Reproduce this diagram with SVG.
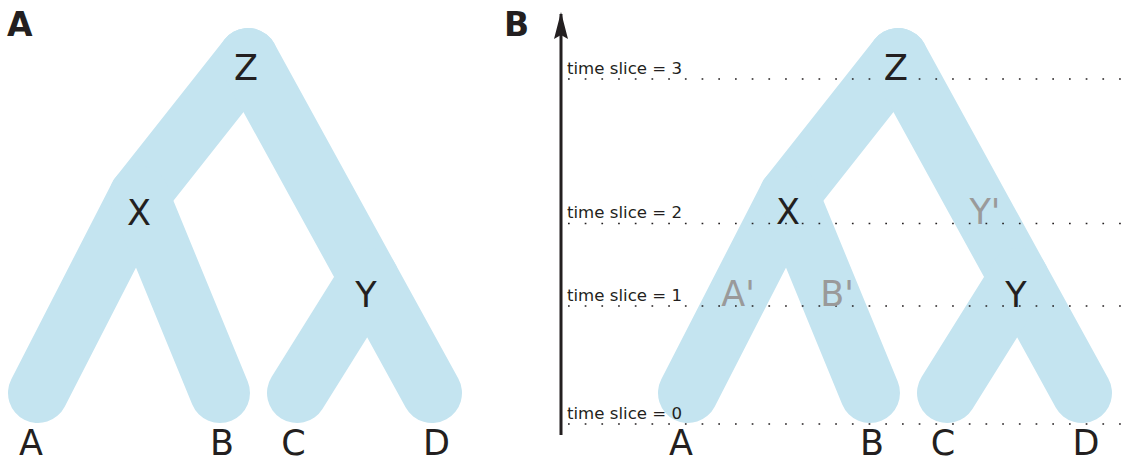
<svg xmlns="http://www.w3.org/2000/svg" width="1130" height="461" viewBox="0 0 1130 461">
  <style>
    .br { fill: none; stroke: #c4e4f0; stroke-width: 60; stroke-linecap: round; stroke-linejoin: miter; }
    .lbl { font-family: "DejaVu Sans", sans-serif; font-size: 35px; fill: #231f20; text-anchor: middle; }
    .ghost { fill: #9a9a9a; }
    .panel { font-family: "DejaVu Sans", sans-serif; font-weight: bold; font-size: 33px; fill: #231f20; }
    .ts { font-family: "DejaVu Sans", sans-serif; font-size: 16.6px; fill: #231f20; }
    .dot { stroke: #231f20; stroke-width: 1.7; stroke-dasharray: 1.7 15; fill: none; }
  </style>
  <defs>
    <marker id="arr" markerWidth="28" markerHeight="16" refX="25" refY="8" orient="auto" markerUnits="userSpaceOnUse" viewBox="0 0 28 16">
      <path d="M27,8 L0,1 L4,8 L0,15 Z" fill="#231f20"/>
    </marker>
    <g id="tree">
      <path class="br" d="M38,393 L139,196 L248,58"/>
      <path class="br" d="M220,393 L139,196"/>
      <path class="br" d="M248,58 L432,393"/>
      <path class="br" d="M297,393 L368.8,278"/>
    </g>
  </defs>

  <!-- Panel A -->
  <g id="panelA">
    <text class="panel" x="7" y="36">A</text>
    <use href="#tree"/>
  </g>

  <!-- Panel B -->
  <g id="panelB">
    <text class="panel" x="504" y="36">B</text>
    <use href="#tree" transform="translate(650,0)"/>
  </g>

  <!-- connectors: time axis and time slices -->
  <g id="connectors">
    <line x1="561" y1="435" x2="561" y2="14" stroke="#231f20" stroke-width="3" marker-end="url(#arr)"/>
    <line class="dot" x1="568" y1="79" x2="1122" y2="79"/>
    <line class="dot" x1="568" y1="223.5" x2="1122" y2="223.5"/>
    <line class="dot" x1="568" y1="306" x2="1122" y2="306"/>
    <line class="dot" x1="568" y1="424" x2="1122" y2="424"/>
  </g>

  <g id="slices">
    <text class="ts" x="567" y="74">time slice = 3</text>
    <text class="ts" x="567" y="218">time slice = 2</text>
    <text class="ts" x="567" y="301">time slice = 1</text>
    <text class="ts" x="567" y="419">time slice = 0</text>
  </g>

  <!-- Panel A nodes -->
  <g id="A-Z"><text class="lbl" x="246" y="80">Z</text></g>
  <g id="A-X"><text class="lbl" x="139" y="225">X</text></g>
  <g id="A-Y"><text class="lbl" x="366" y="307">Y</text></g>
  <g id="A-A"><text class="lbl" x="31" y="455">A</text></g>
  <g id="A-B"><text class="lbl" x="222" y="455">B</text></g>
  <g id="A-C"><text class="lbl" x="293.5" y="455">C</text></g>
  <g id="A-D"><text class="lbl" x="436.5" y="455">D</text></g>

  <!-- Panel B nodes -->
  <g id="B-Z"><text class="lbl" x="896" y="80">Z</text></g>
  <g id="B-X"><text class="lbl" x="788" y="224">X</text></g>
  <g id="B-Y"><text class="lbl" x="1016" y="307">Y</text></g>
  <g id="B-Yp"><text class="lbl ghost" x="985" y="224">Y'</text></g>
  <g id="B-Ap"><text class="lbl ghost" x="738" y="306">A'</text></g>
  <g id="B-Bp"><text class="lbl ghost" x="837" y="306">B'</text></g>
  <g id="B-A"><text class="lbl" x="681" y="455">A</text></g>
  <g id="B-B"><text class="lbl" x="872" y="455">B</text></g>
  <g id="B-C"><text class="lbl" x="943" y="455">C</text></g>
  <g id="B-D"><text class="lbl" x="1086" y="455">D</text></g>
</svg>
